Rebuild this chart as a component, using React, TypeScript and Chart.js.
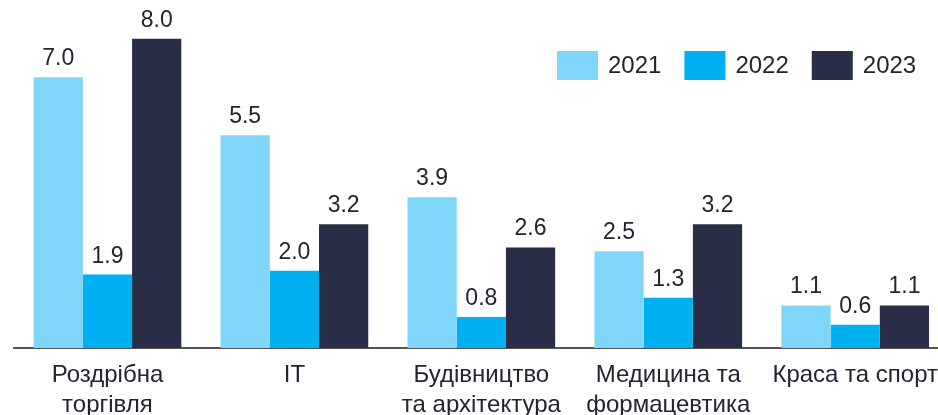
import React, { useEffect, useRef } from "react";
import { Chart, registerables } from "chart.js";

Chart.register(...registerables);

const categories: string[][] = [
  ["Роздрібна", "торгівля"],
  ["IT"],
  ["Будівництво", "та архітектура"],
  ["Медицина та", "формацевтика"],
  ["Краса та спорт"],
];
const seriesLabels = ["2021", "2022", "2023"];
const values2021 = [7.0, 5.5, 3.9, 2.5, 1.1];
const values2022 = [1.9, 2.0, 0.8, 1.3, 0.6];
const values2023 = [8.0, 3.2, 2.6, 3.2, 1.1];
const seriesColors = ["#80d6f8", "#00b0f0", "#292d45"];

const FONT = "'Liberation Sans', Arial, sans-serif";
const TEXT_COLOR = "#222431";

const valueLabelPlugin = {
  id: "valueLabels",
  afterDatasetsDraw(chart: any) {
    const ctx = chart.ctx;
    ctx.save();
    ctx.font = `23px ${FONT}`;
    ctx.fillStyle = TEXT_COLOR;
    ctx.textAlign = "center";
    ctx.textBaseline = "alphabetic";
    chart.data.datasets.forEach((ds: any, i: number) => {
      const meta = chart.getDatasetMeta(i);
      meta.data.forEach((bar: any, j: number) => {
        const v = ds.data[j] as number;
        ctx.fillText(v.toFixed(1), bar.x, bar.y - 12);
      });
    });
    ctx.restore();
  },
};

const customLegendPlugin = {
  id: "customLegend",
  afterDraw(chart: any) {
    const ctx = chart.ctx;
    ctx.save();
    ctx.font = `24px ${FONT}`;
    ctx.textAlign = "left";
    ctx.textBaseline = "middle";
    let x = 557;
    const y = 51;
    const boxW = 41;
    const boxH = 29;
    chart.data.datasets.forEach((ds: any) => {
      ctx.fillStyle = ds.backgroundColor;
      ctx.fillRect(x, y, boxW, boxH);
      ctx.fillStyle = TEXT_COLOR;
      const tx = x + boxW + 10;
      ctx.fillText(ds.label, tx, y + boxH / 2 + 1);
      x = tx + ctx.measureText(ds.label).width + 23;
    });
    ctx.restore();
  },
};

export default function App() {
  const canvasRef = useRef<HTMLCanvasElement | null>(null);

  useEffect(() => {
    if (!canvasRef.current) return;
    const allValues = [values2021, values2022, values2023];
    const chart = new Chart(canvasRef.current, {
      type: "bar",
      data: {
        labels: categories,
        datasets: seriesLabels.map((label, i) => ({
          label,
          data: allValues[i],
          backgroundColor: seriesColors[i],
          borderWidth: 0,
          categoryPercentage: 0.79,
          barPercentage: 1.0,
        })),
      },
      options: {
        responsive: false,
        animation: false,
        devicePixelRatio: 1,
        layout: { padding: { left: 14, right: 0, top: 0, bottom: 0 } },
        plugins: {
          legend: { display: false },
          tooltip: { enabled: false },
        },
        scales: {
          x: {
            grid: { display: false, drawTicks: false },
            border: { display: true, color: "#555555", width: 2 },
            ticks: {
              color: TEXT_COLOR,
              padding: 12,
              maxRotation: 0,
              autoSkip: false,
              font: { family: FONT, size: 24, lineHeight: 1.25 },
            },
            afterFit: (scale: any) => {
              scale.height = 67;
            },
          },
          y: {
            display: false,
            min: 0,
            max: 9,
          },
        },
      },
      plugins: [valueLabelPlugin, customLegendPlugin],
    });
    return () => chart.destroy();
  }, []);

  return (
    <div
      style={{
        position: "absolute",
        left: 0,
        top: 0,
        width: 938,
        height: 415,
        overflow: "hidden",
        background: "#ffffff",
      }}
    >
      <canvas
        ref={canvasRef}
        width={950}
        height={415}
        style={{ display: "block", width: 950, height: 415 }}
      />
    </div>
  );
}
